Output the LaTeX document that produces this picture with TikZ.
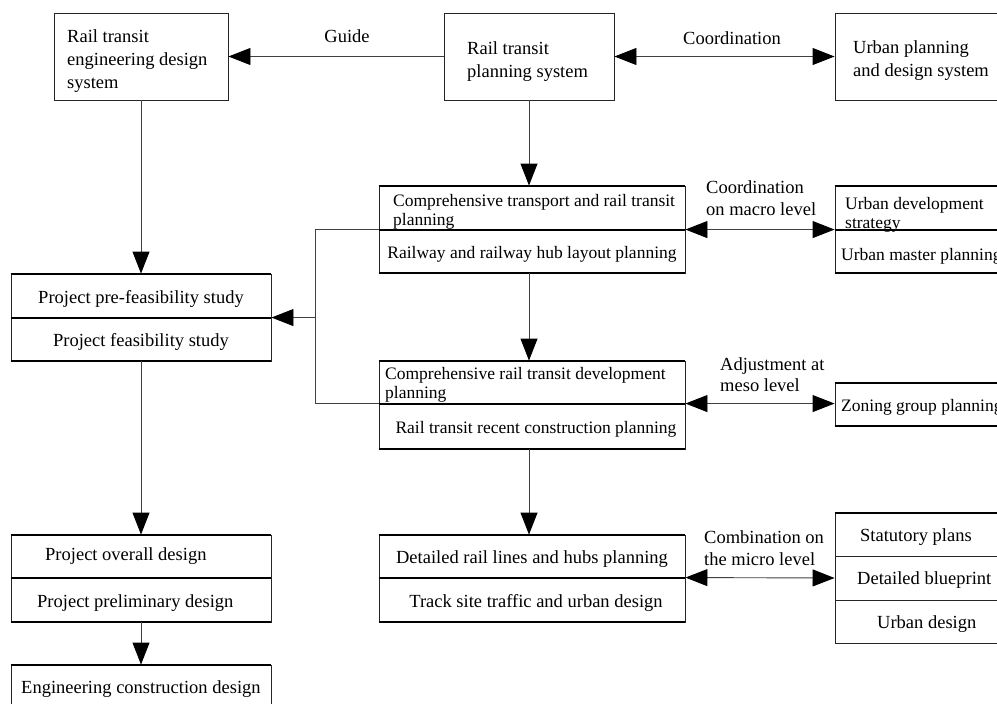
\documentclass[tikz,border=0pt]{standalone}
\usepackage{fontspec}
\setmainfont{Liberation Serif}
\usetikzlibrary{arrows.meta}
\newcommand\mainsz{\fontsize{18.5}{23}\selectfont}
\newcommand\midsz{\fontsize{17.5}{19}\selectfont}
\newcommand\lblsz{\fontsize{18.5}{21.5}\selectfont}
\begin{document}
\begin{tikzpicture}[x=1pt,y=-1pt,
  cell/.style 2 args={draw=black!85, line width=0.9pt, minimum width=#1,
    minimum height=#2, inner sep=0pt, font=\mainsz, text height=17pt, text depth=3pt},
  midcell/.style 2 args={cell={#1}{#2}, font=\midsz},
  txt/.style={inner sep=0pt, align=left, anchor=west, font=\mainsz},
  midtxt/.style={txt, font=\midsz},
  lbl/.style={inner sep=0pt, font=\lblsz},
  rule/.style={draw=black, line width=2pt},
  conn/.style={draw=black!75, line width=0.9pt},
  tip/.tip={Triangle[length=22pt,width=17pt,color=black]},
  arr/.style={conn, -tip},
  darr/.style={conn, tip-tip}]
\useasboundingbox (0,0) rectangle (997,704);
\clip (0,0) rectangle (997,704);

% top row
\node[cell={174}{87}] (eng) at (141,56.5) {};
\node[txt] (engt) at (67,61) {Rail transit\\engineering design\\system};
\node[cell={170}{87}] (plan) at (529,56.5) {};
\node[txt] (plant) at (467,61.5) {Rail transit\\planning system};
\node[cell={175}{87}] (urb) at (922.5,56.5) {};
\node[txt] (urbt) at (853,60.5) {Urban planning\\and design system};

% middle column
\node[midcell={306}{44}] (c1a) at (532,208) {};
\node[midtxt] (c1at) at (393,211.5) {Comprehensive transport and rail transit\\planning};
\node[midcell={306}{43}] (c1b) at (532,251.5) {Railway and railway hub layout planning};
\node[midcell={306}{43}] (c2a) at (532,382.5) {};
\node[midtxt] (c2at) at (385,384.5) {Comprehensive rail transit development\\planning};
\node[midcell={306}{45}] (c2b) at (532,426.5) {\hspace*{8pt}Rail transit recent construction planning};
\node[cell={306}{43}] (c3a) at (532,556.5) {Detailed rail lines and hubs planning};
\node[cell={306}{44}] (c3b) at (532,600) {\hspace*{8pt}Track site traffic and urban design};

% right column
\node[midcell={175}{44}] (u1a) at (922.5,208) {};
\node[midtxt] (u1at) at (845,215) {Urban development\\strategy};
\node[midcell={175}{43}] (u1b) at (922.5,251.5) {};
\node[midtxt] (u1bt) at (841,256) {Urban master planning};
\node[midcell={175}{43}] (zon) at (922.5,404.5) {};
\node[midtxt] (zont) at (841,407.5) {Zoning group planning};
\node[cell={175}{43}] (s1) at (922.5,534.5) {};
\node[txt] (s1t) at (860,537) {Statutory plans};
\node[cell={175}{44}] (s2) at (922.5,578) {};
\node[txt] (s2t) at (857,580.5) {Detailed blueprint};
\node[cell={175}{43}] (s3) at (922.5,621.5) {};
\node[txt] (s3t) at (877,624.5) {Urban design};

% left column
\node[cell={260}{44}] (p1a) at (141,296) {Project pre-feasibility study};
\node[cell={260}{43}] (p1b) at (141,339.5) {Project feasibility study};
\node[cell={260}{43}] (p2a) at (141,556.5) {};
\node[txt] (p2at) at (45,556.5) {Project overall design};
\node[cell={260}{44}] (p2b) at (141,600) {};
\node[txt] (p2bt) at (37,603) {Project preliminary design};
\node[cell={260}{50}] (p3) at (141,690) {};
\node[txt] (p3t) at (21,689) {Engineering construction design};

% heavy horizontal rules of the stacked boxes
\foreach \n in {c1a,c1b,c2a,c2b,c3a,c3b,u1a,u1b,zon,s1,p1a,p1b,p2a,p2b,p3}
  \draw[rule] (\n.north west) -- (\n.north east);
\foreach \n in {c1b,c2b,c3b,u1b,zon,p1b,p2b}
  \draw[rule] (\n.south west) -- (\n.south east);

% connectors
\draw[arr] (plan.west) -- (eng.east);
\node[lbl] (guide) at (347,36) {Guide};
\draw[darr] (plan.east) -- (urb.west);
\node[lbl] (coord) at (732,38) {Coordination};

\draw[arr] (plan.south) -- (plan.south |- c1a.north);
\draw[arr] (c1b.south -| plan.south) -- (c2a.north -| plan.south);
\draw[arr] (c2b.south -| plan.south) -- (c3a.north -| plan.south);

\draw[darr] (c1b.north east) -- (u1b.north west);
\node[lbl, anchor=west, align=left] (macro) at (706,198) {Coordination\\on macro level};
\draw[darr] (c2b.north east) -- (c2b.north east -| zon.west);
\node[lbl, anchor=west, align=left] (meso) at (720,374.5) {Adjustment at\\meso level};
\draw[darr] (c3b.north east) -- (s2.west);
\node[lbl, anchor=west, align=left] (micro) at (704,548) {Combination on\\the micro level};

\coordinate (fb) at (315,318);
\draw[conn] (c1b.north west) -- (c1b.north west -| fb) -- (c2b.north west -| fb) -- (c2b.north west);
\draw[arr] (fb |- p1b.north east) -- (p1b.north east);

\draw[arr] (eng.south) -- (eng.south |- p1a.north);
\draw[arr] (p1b.south) -- (p2a.north);
\draw[arr] (p2b.south) -- (p3.north);
\end{tikzpicture}
\end{document}
